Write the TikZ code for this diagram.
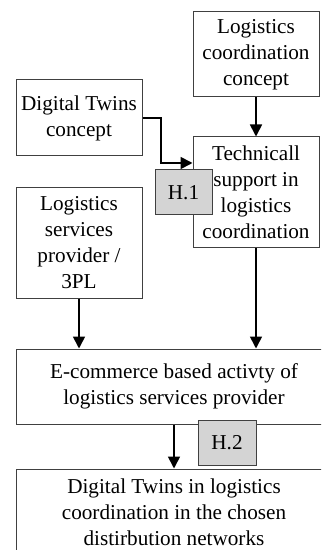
\documentclass[tikz,border=0pt]{standalone}
\usepackage{fontspec}
\setmainfont{Liberation Serif}
\usetikzlibrary{arrows.meta}

\begin{document}
\begin{tikzpicture}[x=0.5pt, y=-0.5pt,
    box/.style={draw=black!75, line width=0.5pt, fill=white, align=center,
        inner sep=0pt, font=\fontsize{10.6}{13}\selectfont},
    hyp/.style={box, fill=black!17},
    arr/.style={-{Triangle[length=6pt,width=6pt]}, line width=0.85pt}]
    \useasboundingbox (0,0) rectangle (321,550);
    \clip (0,0) rectangle (321,550);
    % Concept boxes
    \node[box, minimum width=63pt, minimum height=42.5pt] (coord) at (256,54.5)
        {Logistics\\coordination\\concept};
    \node[box, minimum width=63pt, minimum height=38pt] (twins) at (79,118)
        {Digital Twins\\concept};
    \node[box, minimum width=63pt, minimum height=55.5pt] (tech) at (256,192.5)
        {Technicall\\support in\\logistics\\coordination};
    \node[box, minimum width=63pt, minimum height=55pt] (lsp) at (79,243)
        {Logistics\\services\\provider /\\3PL};
    % Wide boxes
    \node[box, minimum width=158pt, minimum height=37.5pt] (ecom) at (174,386.5)
        {E-commerce based activty of\\logistics services provider};
    \node[box, minimum width=158pt, minimum height=43pt] (dtlc) at (174,512)
        {Digital Twins in logistics\\coordination in the chosen\\distirbution networks};
    % Connectors
    \coordinate (bend) at (161,163);
    \draw[arr] (coord.south) -- (tech.north);
    \draw[arr] (twins.east) -| (bend) -- (bend -| tech.west);
    \draw[arr] (lsp.south) -- (lsp.south |- ecom.north);
    \draw[arr] (tech.south) -- (tech.south |- ecom.north);
    \draw[arr] (ecom.south) -- (dtlc.north);
    % Hypotheses
    \node[hyp, minimum width=28.5pt, minimum height=22.5pt] (h1) at (183.5,192.5) {H.1};
    \node[hyp, minimum width=29pt, minimum height=22.5pt] (h2) at (227,442.5) {H.2};
\end{tikzpicture}
\end{document}
